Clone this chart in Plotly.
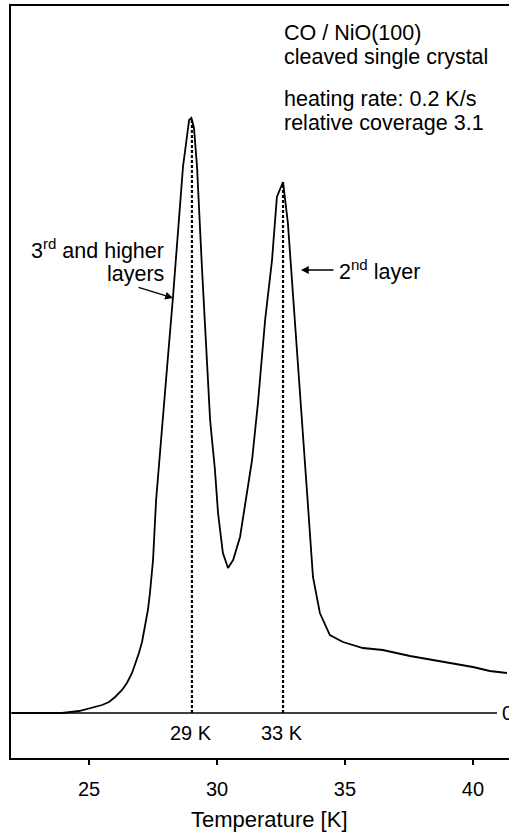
import plotly.graph_objects as go

# ---- data ----
temperature_K = [21.99, 23.95, 24.61, 25.12, 25.51, 25.78, 26.02, 26.29, 26.48, 26.68,
                 26.80, 26.95, 27.07, 27.19, 27.30, 27.38, 27.50, 27.62,
                 27.85, 28.05, 28.28, 28.67, 28.91, 29.00, 29.10, 29.22, 29.41, 29.61,
                 29.73, 29.92, 30.04, 30.23, 30.43, 30.63, 30.90, 31.37, 31.60, 31.88,
                 32.15, 32.34, 32.58, 32.77, 32.97, 33.24, 33.52, 33.75, 34.02, 34.41,
                 34.92, 35.70, 36.48, 37.54, 38.83, 40.00, 40.66, 41.33]
intensity = [0.00, 0.00, 0.02, 0.05, 0.08, 0.11, 0.16, 0.23, 0.30, 0.40,
             0.48, 0.60, 0.71, 0.86, 1.03, 1.20, 1.53, 2.13,
             2.80, 3.46, 4.16, 5.46, 5.93, 5.95, 5.85, 5.46, 4.46, 3.46,
             2.93, 2.43, 2.00, 1.60, 1.45, 1.53, 1.76, 2.53, 3.10, 3.93,
             4.53, 5.16, 5.31, 4.90, 4.20, 3.20, 2.20, 1.36, 1.00, 0.78,
             0.71, 0.65, 0.63, 0.57, 0.51, 0.46, 0.42, 0.40]

peak_T = [29.02, 32.58]
peak_height = [5.95, 5.31]
peak_labels = ["29 K", "33 K"]

x_ticks = [25, 30, 35, 40]
x_range = [21.95, 41.41]
y_range = [-0.45, 7.07]
zero_line_end = 40.94

info_lines = ["CO / NiO(100)", "cleaved single crystal",
              "heating rate: 0.2 K/s", "relative coverage 3.1"]
info_y = [6.80, 6.56, 6.14, 5.90]

FONT = "Liberation Sans, Arial, sans-serif"

fig = go.Figure()

# zero line
fig.add_trace(go.Scatter(x=[x_range[0], zero_line_end], y=[0, 0], mode="lines",
                         line=dict(color="black", width=1.5), hoverinfo="skip"))

# dashed peak markers
for t, h in zip(peak_T, peak_height):
    fig.add_trace(go.Scatter(x=[t, t], y=[0, h], mode="lines",
                             line=dict(color="black", width=2.2, dash="3px,2px"),
                             hoverinfo="skip"))

# TPD curve
fig.add_trace(go.Scatter(x=temperature_K, y=intensity, mode="lines",
                         line=dict(color="black", width=1.8)))

ann = []
for t, lab in zip(peak_T, peak_labels):
    ann.append(dict(x=t - 0.05, y=-0.20, text=lab, showarrow=False,
                    xanchor="center", yanchor="middle", font=dict(size=20)))

for txt, yy in zip(info_lines, info_y):
    ann.append(dict(x=32.52, y=yy, text=txt, showarrow=False,
                    xanchor="left", yanchor="middle", font=dict(size=21.5)))

ann.append(dict(x=28.0, y=4.64, text="3<sup>rd</sup> and higher",
                showarrow=False, xanchor="right", yanchor="middle",
                font=dict(size=21.5)))
ann.append(dict(x=28.0, y=4.39, text="layers",
                showarrow=False, xanchor="right", yanchor="middle",
                font=dict(size=21.5)))
ann.append(dict(x=28.28, y=4.15, ax=26.875, ay=4.26, axref="x", ayref="y",
                text="", showarrow=True, arrowhead=2, arrowsize=1.2, arrowwidth=1.3,
                arrowcolor="black"))
ann.append(dict(x=34.69, y=4.43, text="2<sup>nd</sup> layer", showarrow=False,
                xanchor="left", yanchor="middle", font=dict(size=21.5)))
ann.append(dict(x=33.28, y=4.43, ax=34.61, ay=4.43, axref="x", ayref="y",
                text="", showarrow=True, arrowhead=2, arrowsize=1.2, arrowwidth=1.3,
                arrowcolor="black"))
ann.append(dict(x=41.05, y=0, text="0", showarrow=False, xanchor="left",
                yanchor="middle", font=dict(size=20)))
ann.append(dict(x=32.07, y=0, xref="x", yref="paper", yshift=-61, text="Temperature [K]",
                showarrow=False, xanchor="center", yanchor="middle",
                font=dict(size=22)))

fig.update_layout(
    width=509, height=832,
    margin=dict(l=11, r=0, t=6, b=74),
    paper_bgcolor="white", plot_bgcolor="white",
    showlegend=False,
    font=dict(family=FONT, color="black", size=18),
    annotations=ann,
    xaxis=dict(range=x_range, tickvals=x_ticks, ticks="outside", ticklen=5,
               tickwidth=1.5, tickcolor="black", showline=True, linecolor="black",
               linewidth=2, mirror=True, showgrid=False, zeroline=False,
               tickfont=dict(size=20), ticklabelstandoff=7),
    yaxis=dict(range=y_range, showticklabels=False, ticks="", showline=True,
               linecolor="black", linewidth=2, showgrid=False, zeroline=False),
)

fig.write_html("out.html", config={"displayModeBar": False},
               post_script="document.body.style.margin='0';document.body.style.overflow='hidden';")
